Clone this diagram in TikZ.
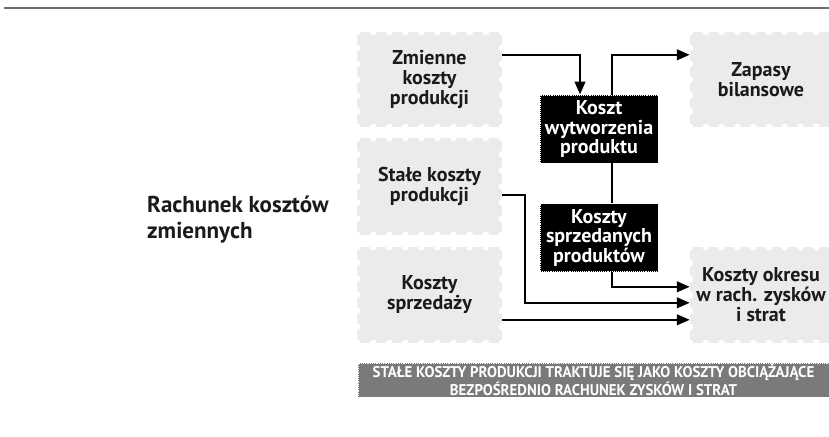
\documentclass[tikz,border=0pt]{standalone}
\usepackage{fontspec}
\setmainfont{PT Sans}
\newfontfamily\bannerfont[FakeStretch=0.96]{PT Sans}
\usetikzlibrary{arrows.meta}
\definecolor{stampgray}{HTML}{EBEBEB}
\definecolor{bannergray}{HTML}{7A7A7A}
\definecolor{rulegray}{HTML}{6E6E6E}
\definecolor{inkblack}{HTML}{1A1A1A}

% perforated "stamp" box: name, x1, y1, x2, y2, text
\newcommand\stampnode[6]{%
  \pgfmathsetmacro\stW{#4-#2}\pgfmathsetmacro\stH{#5-#3}%
  \pgfmathsetmacro\stX{(#2+#4)/2}\pgfmathsetmacro\stY{(#3+#5)/2}%
  \node[stamp, minimum width=\stW pt, minimum height=\stH pt] (#1) at (\stX,\stY) {#6};
  \pgfmathtruncatemacro\stNx{round(\stW/16)}%
  \pgfmathtruncatemacro\stNy{round(\stH/16)}%
  \pgfmathsetmacro\stDx{\stW/\stNx}\pgfmathsetmacro\stDy{\stH/\stNy}%
  \foreach \k in {0,...,\stNx}{%
    \fill[white] (#2+\k*\stDx,#3) circle[radius=3.4pt] (#2+\k*\stDx,#5) circle[radius=3.4pt];}
  \foreach \k in {0,...,\stNy}{%
    \fill[white] (#2,#3+\k*\stDy) circle[radius=3.4pt] (#4,#3+\k*\stDy) circle[radius=3.4pt];}
}

\tikzset{
  stamp/.style={fill=stampgray, text=inkblack, inner sep=0pt, align=center,
    font=\bfseries\fontsize{20}{20}\selectfont},
  darkbox/.style={fill=black, draw=white, densely dotted, line width=0.9pt,
    text=white, inner sep=0pt, align=center, minimum width=118pt, minimum height=68pt,
    font=\bfseries\fontsize{20}{19.5}\selectfont},
  heading/.style={text=inkblack, inner sep=0pt, align=left,
    font=\bfseries\fontsize{23}{26}\selectfont},
  banner/.style={fill=bannergray, draw=white, densely dotted, line width=0.8pt,
    text=white, inner sep=0pt, align=center,
    font=\bannerfont\bfseries\fontsize{15.5}{15}\selectfont},
  link/.style={line width=2.4pt, draw=black},
  arrow/.style={link, -{Triangle[length=13pt,width=10.5pt]}},
}

\begin{document}
\begin{tikzpicture}[x=1pt, y=-1pt]
  \useasboundingbox (0,0) rectangle (829,436);

  % top rule
  \draw[rulegray, line width=2pt] (4,8) -- (829,8);

  % heading
  \node[heading, anchor=north west] (title) at (147,196) {Rachunek kosztów\\zmiennych};

  % source and target boxes
  \stampnode{zm}{357}{32}{502}{127}{Zmienne\\koszty\\produkcji}
  \stampnode{st}{357}{138}{502}{235}{Stałe koszty\\produkcji}
  \stampnode{sp}{357}{247}{502}{343}{Koszty\\sprzedaży}
  \stampnode{zp}{690}{32}{832}{127}{Zapasy\\bilansowe}
  \stampnode{ko}{690}{247}{832}{343}{Koszty okresu\\w rach. zysków\\i strat}

  % intermediate cost boxes
  \node[darkbox] (kw) at (599,129) {Koszt\\wytworzenia\\produktu};
  \node[darkbox] (ks) at (599,237.5) {Koszty\\sprzedanych\\produktów};

  % flows
  \draw[arrow] ([yshift=-23pt]zm.north east) -| ([xshift=-19pt]kw.north);
  \draw[arrow] ([xshift=13pt]kw.north) |- ([yshift=-23pt]zp.north west);
  \draw[link] ([xshift=13pt]kw.south) -- ([xshift=13pt]ks.north);
  \draw[arrow] ([xshift=13pt]ks.south) |- ([yshift=-40pt]ko.north west);
  \draw[arrow] ([yshift=-57pt]st.north east) -- ++(23,0) |- ([yshift=-56pt]ko.north west);
  \draw[arrow] ([yshift=-73pt]sp.north east) -- ([yshift=-73pt]ko.north west);

  % note
  \node[banner, minimum width=471pt, minimum height=34pt] (note) at (593.5,380)
    {STAŁE KOSZTY PRODUKCJI TRAKTUJE SIĘ JAKO KOSZTY OBCIĄŻAJĄCE\\BEZPOŚREDNIO RACHUNEK ZYSKÓW I STRAT};
\end{tikzpicture}
\end{document}
